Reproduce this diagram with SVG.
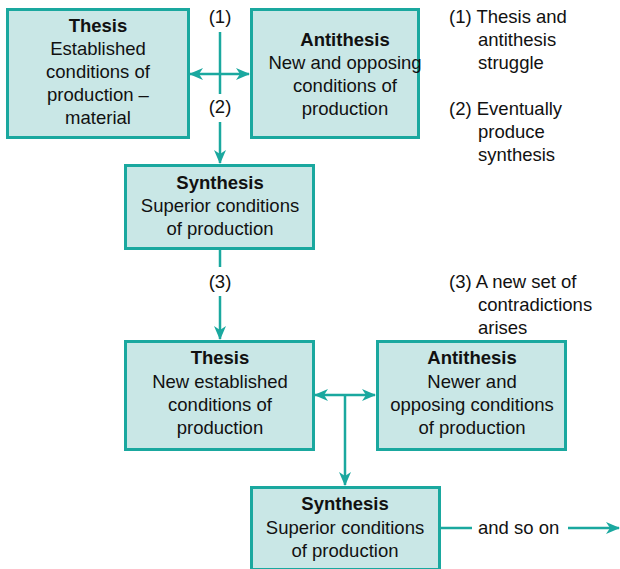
<svg xmlns="http://www.w3.org/2000/svg" width="620" height="569" viewBox="0 0 620 569">
<style>
.box{fill:#c9e7e6;stroke:#1aa89f;stroke-width:3}
.t{font-family:"Liberation Sans",Arial,sans-serif;font-size:18.5px;fill:#111;text-anchor:middle}
.b{font-weight:bold}
.n{font-family:"Liberation Sans",Arial,sans-serif;font-size:18.5px;fill:#111}
.ln{stroke:#1aa89f;stroke-width:2.5;fill:none}
</style>
<defs>
<marker id="ah" viewBox="0 0 14 12" refX="13" refY="6" markerWidth="14" markerHeight="12" markerUnits="userSpaceOnUse" orient="auto-start-reverse">
<path d="M0,0 L14,6 L0,12 L4,6 Z" fill="#1aa89f"/>
</marker>
</defs>
<g id="connectors">
<line class="ln" x1="220" y1="32" x2="220" y2="94"/>
<line class="ln" x1="220" y1="122" x2="220" y2="163" marker-end="url(#ah)"/>
<line class="ln" x1="190" y1="74" x2="249" y2="74" marker-start="url(#ah)" marker-end="url(#ah)"/>
<line class="ln" x1="220" y1="250" x2="220" y2="267"/>
<line class="ln" x1="220" y1="296" x2="220" y2="339" marker-end="url(#ah)"/>
<line class="ln" x1="315" y1="395" x2="375" y2="395" marker-start="url(#ah)" marker-end="url(#ah)"/>
<line class="ln" x1="345" y1="395" x2="345" y2="485" marker-end="url(#ah)"/>
<line class="ln" x1="441" y1="528" x2="472" y2="528"/>
<line class="ln" x1="568" y1="528" x2="619" y2="528" marker-end="url(#ah)"/>
</g>
<g id="label1"><text class="t" x="220" y="23">(1)</text></g>
<g id="label2"><text class="t" x="220" y="113">(2)</text></g>
<g id="label3"><text class="t" x="220" y="288">(3)</text></g>
<g id="thesis1">
<rect class="box" x="7.5" y="9.5" width="181" height="128"/>
<text class="t b" x="98" y="32">Thesis</text>
<text class="t" x="98" y="55">Established</text>
<text class="t" x="98" y="78">conditions of</text>
<text class="t" x="98" y="101">production –</text>
<text class="t" x="98" y="124">material</text>
</g>
<g id="antithesis1">
<rect class="box" x="251.5" y="9.5" width="167" height="128"/>
<text class="t b" x="345" y="46">Antithesis</text>
<text class="t" x="345" y="69">New and opposing</text>
<text class="t" x="345" y="92">conditions of</text>
<text class="t" x="345" y="115">production</text>
</g>
<g id="synthesis1">
<rect class="box" x="125.5" y="165.5" width="188" height="83"/>
<text class="t b" x="220" y="189">Synthesis</text>
<text class="t" x="220" y="212">Superior conditions</text>
<text class="t" x="220" y="235">of production</text>
</g>
<g id="thesis2">
<rect class="box" x="125.5" y="341.5" width="188" height="108"/>
<text class="t b" x="220" y="364">Thesis</text>
<text class="t" x="220" y="388">New established</text>
<text class="t" x="220" y="411">conditions of</text>
<text class="t" x="220" y="434">production</text>
</g>
<g id="antithesis2">
<rect class="box" x="377.5" y="341.5" width="188" height="108"/>
<text class="t b" x="472" y="364">Antithesis</text>
<text class="t" x="472" y="388">Newer and</text>
<text class="t" x="472" y="411">opposing conditions</text>
<text class="t" x="472" y="434">of production</text>
</g>
<g id="synthesis2">
<rect class="box" x="251.5" y="487.5" width="188" height="82"/>
<text class="t b" x="345" y="510">Synthesis</text>
<text class="t" x="345" y="534">Superior conditions</text>
<text class="t" x="345" y="557">of production</text>
</g>
<g id="andsoon"><text class="n" x="478" y="534">and so on</text></g>
<g id="notes">
<text class="n" x="449" y="23">(1) Thesis and</text>
<text class="n" x="478" y="46">antithesis</text>
<text class="n" x="478" y="69">struggle</text>
<text class="n" x="449" y="115">(2) Eventually</text>
<text class="n" x="478" y="138">produce</text>
<text class="n" x="478" y="161">synthesis</text>
<text class="n" x="449" y="288">(3) A new set of</text>
<text class="n" x="478" y="311">contradictions</text>
<text class="n" x="478" y="334">arises</text>
</g>
</svg>
